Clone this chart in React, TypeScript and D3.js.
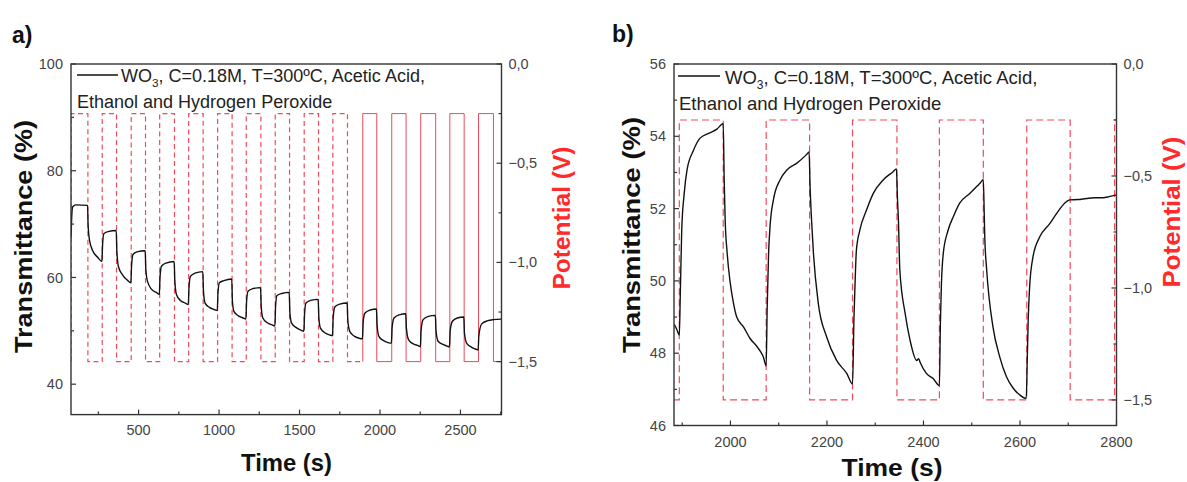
import React from "react";
import * as d3 from "d3";

// ---------- Panel a data ----------
const timeTicksA = [500, 1000, 1500, 2000, 2500];
const timeMinorA = [250, 750, 1250, 1750, 2250, 2750];
const transTicksA = [40, 60, 80, 100];
const transMinorA = [50, 70, 90];
const potTicks = [0, -0.5, -1.0, -1.5];
const potMinor = [-0.25, -0.75, -1.25];

// Transmittance (%) vs time (s), panel a
const transmittanceA: [number, number][] = [
  [80, 67.5], [84, 71], [90, 73.2], [110, 73.6], [183, 73.5],
  [186, 70], [195, 67], [215, 65], [245, 63.8], [272, 63.0],
  [276, 66], [284, 68.2], [310, 68.6], [361, 68.8],
  [365, 65], [375, 62], [400, 60.5], [430, 59.5], [452, 59.0],
  [456, 62], [465, 64.3], [490, 64.8], [541, 65.0],
  [545, 61.5], [555, 59.3], [580, 57.8], [610, 57.2], [629, 56.8],
  [633, 60], [642, 62.1], [670, 62.7], [721, 63.0],
  [725, 59.5], [735, 56.8], [760, 55.7], [790, 55.2], [809, 54.9],
  [813, 58], [822, 60.2], [850, 60.8], [899, 61.1],
  [903, 57.5], [913, 55.2], [940, 54.4], [970, 54.0], [989, 53.8],
  [993, 57], [1002, 59.0], [1030, 59.4], [1079, 59.7],
  [1083, 55.5], [1093, 53.6], [1120, 52.8], [1150, 52.4], [1167, 52.2],
  [1171, 55.5], [1180, 57.4], [1210, 57.9], [1258, 58.1],
  [1262, 54.5], [1272, 52.4], [1300, 51.5], [1330, 51.1], [1347, 50.9],
  [1351, 54.5], [1360, 56.6], [1390, 57.0], [1436, 57.2],
  [1440, 53.5], [1450, 51.5], [1480, 50.6], [1510, 50.1], [1527, 49.9],
  [1531, 53], [1540, 55.2], [1570, 55.7], [1616, 55.9],
  [1620, 52.5], [1630, 50.5], [1660, 49.6], [1690, 49.2], [1705, 49.1],
  [1709, 52.5], [1720, 54.5], [1750, 55.0], [1796, 55.2],
  [1800, 52], [1812, 49.9], [1840, 49.0], [1870, 48.6], [1891, 48.5],
  [1895, 51.5], [1906, 53.3], [1940, 53.9], [1978, 54.1],
  [1982, 51], [1994, 48.9], [2020, 48.2], [2050, 47.8], [2071, 47.7],
  [2075, 50.5], [2087, 52.4], [2120, 53.0], [2160, 53.2],
  [2164, 50.5], [2178, 48.3], [2210, 47.5], [2240, 47.2], [2251, 47.0],
  [2255, 50], [2268, 52.1], [2300, 52.7], [2344, 52.9],
  [2348, 50], [2362, 48.0], [2395, 47.4], [2420, 47.1], [2432, 47.0],
  [2436, 50], [2450, 51.8], [2480, 52.4], [2521, 52.6],
  [2525, 49.5], [2540, 47.6], [2570, 46.9], [2600, 46.5], [2610, 46.4],
  [2614, 49], [2632, 51.3], [2670, 51.9], [2705, 52.1], [2755, 52.2],
];

// Potential (V) switching points, panel a (step after)
const potentialA_dashed: [number, number][] = [
  [80, -1.5], [80, -0.25], [185, -1.5], [274, -0.25], [363, -1.5], [454, -0.25],
  [543, -1.5], [631, -0.25], [723, -1.5], [811, -0.25], [901, -1.5], [991, -0.25],
  [1081, -1.5], [1169, -0.25], [1260, -1.5], [1349, -0.25], [1438, -1.5],
  [1529, -0.25], [1618, -1.5], [1707, -0.25], [1798, -1.5], [1893, -1.5],
];
const potentialA_solid: [number, number][] = [
  [1893, -1.5], [1893, -0.25], [1980, -1.5], [2073, -0.25], [2162, -1.5],
  [2253, -0.25], [2346, -1.5], [2434, -0.25], [2523, -1.5], [2612, -0.25],
  [2705, -1.5], [2755, -1.5],
];

// ---------- Panel b data ----------
const timeTicksB = [2000, 2200, 2400, 2600, 2800];
const timeMinorB = [1900, 2100, 2300, 2500, 2700];
const transTicksB = [46, 48, 50, 52, 54, 56];
const transMinorB = [47, 49, 51, 53, 55];

const transmittanceB: [number, number][] = [
  [1883.5, 48.8], [1889, 48.65], [1894, 48.5], [1896, 49.6], [1899, 51.4], [1904, 52.4],
  [1910, 53.07], [1923, 53.6], [1937, 53.95], [1958, 54.1], [1972, 54.2], [1985, 54.35],
  [1987, 52.8], [1989, 51.7], [1993, 50.8], [1999, 50.0], [2006, 49.4], [2013, 49.0],
  [2027, 48.73], [2041, 48.4], [2054, 48.2], [2062, 48.05], [2068, 47.9], [2074, 47.65],
  [2076, 49.2], [2079, 50.76], [2082, 51.5], [2089, 52.24], [2103, 52.8], [2117, 53.07],
  [2137, 53.25], [2158, 53.5], [2163, 53.57],
  [2165, 52.6], [2168, 51.7], [2172, 50.76], [2182, 49.38], [2199, 48.46], [2220, 47.8],
  [2241, 47.44], [2253, 47.15],
  [2256, 49.0], [2258, 49.84], [2261, 50.85], [2268, 51.4], [2282, 51.96], [2296, 52.42],
  [2317, 52.8], [2337, 53.02], [2344, 53.1],
  [2346, 52.3], [2348, 51.7], [2351, 50.3], [2362, 49.1], [2372, 48.37], [2386, 47.8],
  [2390, 47.85], [2393, 47.75], [2406, 47.44], [2420, 47.3], [2433, 47.1],
  [2435, 48.8], [2437, 49.84], [2441, 50.76], [2451, 51.4], [2462, 51.78], [2475, 52.15],
  [2496, 52.42], [2517, 52.7], [2524, 52.8],
  [2526, 51.8], [2527, 51.22], [2531, 50.3], [2544, 48.73], [2558, 47.9], [2572, 47.35],
  [2586, 47.03], [2600, 46.84], [2613, 46.75],
  [2615, 47.8], [2617, 48.92], [2620, 49.84], [2627, 50.67], [2641, 51.22], [2662, 51.59],
  [2676, 51.87], [2696, 52.19], [2703, 52.24], [2720, 52.25], [2738, 52.28], [2755, 52.3],
  [2772, 52.3], [2785, 52.33], [2800, 52.38],
];

const potentialB: [number, number][] = [
  [1883, -1.5], [1894, -0.25], [1985, -1.5], [2074, -0.25], [2164, -1.5], [2253, -0.25],
  [2345, -1.5], [2433, -0.25], [2524, -1.5], [2614, -0.25], [2704, -1.5], [2796, -0.25],
  [2800, -0.25],
];

const legendLine1 = ["WO", "3", ", C=0.18M, T=300ºC, Acetic Acid,"];
const legendLine2 = "Ethanol and Hydrogen Peroxide";

const FONT = "'Liberation Sans', Arial, sans-serif";
const RED = "#ee4a5c";
const TITLE_RED = "#ff2a2a";
const AXIS = "#333";
const TICKTXT = "#444";

const fmtV = (v: number) =>
  d3.format(".1f")(Math.abs(v) < 1e-9 ? 0 : v).replace(".", ",").replace("-", "\u2212");

type Cfg = {
  id: string;
  left: number; right: number; top: number; bottom: number;
  xDomain: [number, number]; yDomain: [number, number]; vDomain: [number, number];
  xTicks: number[]; xMinor: number[]; yTicks: number[]; yMinor: number[];
  trans: [number, number][];
  potDashed: [number, number][];
  potSolid?: [number, number][];
  dash: string;
  panelLabel: string; panelX: number; panelY: number;
  xLabelBase: number;
  timeTitle: { x: number; y: number; len: number };
  transTitle: { x: number; y: number; len: number };
  potTitle: { x: number; y: number; len: number };
  legend: { lineX0: number; lineX1: number; lineY: number; textX: number; base1: number; x2: number; base2: number; size: number };
};

function Panel({ c }: { c: Cfg }) {
  const x = d3.scaleLinear().domain(c.xDomain).range([c.left, c.right]);
  const y = d3.scaleLinear().domain(c.yDomain).range([c.bottom, c.top]);
  const v = d3.scaleLinear().domain(c.vDomain).range([c.bottom, c.top]);
  const lineT = d3.line<[number, number]>().x(d => x(d[0])).y(d => y(d[1])).curve(d3.curveMonotoneX);
  const lineV = d3.line<[number, number]>().x(d => x(d[0])).y(d => v(d[1])).curve(d3.curveStepAfter);
  const maj = 5, mnr = 3;
  const clipId = "clip-" + c.id;
  return (
    <g>
      <defs>
        <clipPath id={clipId}>
          <rect x={c.left} y={c.top} width={c.right - c.left} height={c.bottom - c.top} />
        </clipPath>
      </defs>
      <text x={c.panelX} y={c.panelY} fontFamily={FONT} fontWeight="bold" fontSize={23} fill="#111">{c.panelLabel}</text>
      <g clipPath={`url(#${clipId})`}>
        <path d={lineV(c.potDashed) || ""} fill="none" stroke={RED} strokeWidth={1.2} strokeDasharray={c.dash} />
        {c.potSolid && <path d={lineV(c.potSolid) || ""} fill="none" stroke={RED} strokeWidth={1.0} />}
        <path d={lineT(c.trans) || ""} fill="none" stroke="#111" strokeWidth={1.4} />
      </g>
      <rect x={c.left} y={c.top} width={c.right - c.left} height={c.bottom - c.top} fill="none" stroke={AXIS} strokeWidth={1.4} />
      {c.xTicks.map(t => (
        <g key={"xt" + t}>
          <line x1={x(t)} x2={x(t)} y1={c.bottom} y2={c.bottom - maj} stroke={AXIS} strokeWidth={1.2} />
          <text x={x(t)} y={c.xLabelBase} textAnchor="middle" fontFamily={FONT} fontSize={14.5} fill={TICKTXT}>{t}</text>
        </g>
      ))}
      {c.xMinor.filter(t => t > c.xDomain[0] && t < c.xDomain[1]).map(t => (
        <line key={"xm" + t} x1={x(t)} x2={x(t)} y1={c.bottom} y2={c.bottom - mnr} stroke={AXIS} strokeWidth={1.2} />
      ))}
      {c.yTicks.map(t => (
        <g key={"yt" + t}>
          <line x1={c.left} x2={c.left + maj} y1={y(t)} y2={y(t)} stroke={AXIS} strokeWidth={1.2} />
          <text x={c.left - 8} y={y(t)} dy="0.35em" textAnchor="end" fontFamily={FONT} fontSize={14.5} fill={TICKTXT}>{t}</text>
        </g>
      ))}
      {c.yMinor.map(t => (
        <line key={"ym" + t} x1={c.left} x2={c.left + mnr} y1={y(t)} y2={y(t)} stroke={AXIS} strokeWidth={1.2} />
      ))}
      {potTicks.map(t => (
        <g key={"vt" + t}>
          <line x1={c.right} x2={c.right - maj} y1={v(t)} y2={v(t)} stroke={AXIS} strokeWidth={1.2} />
          <text x={c.right + 7} y={v(t)} dy="0.35em" textAnchor="start" fontFamily={FONT} fontSize={14.5} fill={TICKTXT}>{fmtV(t)}</text>
        </g>
      ))}
      {potMinor.map(t => (
        <line key={"vm" + t} x1={c.right} x2={c.right - mnr} y1={v(t)} y2={v(t)} stroke={AXIS} strokeWidth={1.2} />
      ))}
      <text x={c.timeTitle.x} y={c.timeTitle.y} textAnchor="middle" fontFamily={FONT} fontWeight="bold" fontSize={24}
        fill="#111" textLength={c.timeTitle.len} lengthAdjust="spacingAndGlyphs">Time (s)</text>
      <text transform={`translate(${c.transTitle.x},${c.transTitle.y}) rotate(-90)`} textAnchor="middle" fontFamily={FONT}
        fontWeight="bold" fontSize={24} fill="#111" textLength={c.transTitle.len} lengthAdjust="spacingAndGlyphs">Transmittance (%)</text>
      <text transform={`translate(${c.potTitle.x},${c.potTitle.y}) rotate(-90)`} textAnchor="middle" fontFamily={FONT}
        fontWeight="bold" fontSize={24} fill={TITLE_RED} textLength={c.potTitle.len} lengthAdjust="spacingAndGlyphs">Potential (V)</text>
      <line x1={c.legend.lineX0} x2={c.legend.lineX1} y1={c.legend.lineY} y2={c.legend.lineY} stroke="#111" strokeWidth={1.4} />
      <text x={c.legend.textX} y={c.legend.base1} fontFamily={FONT} fontSize={c.legend.size} fill="#222">
        <tspan>{legendLine1[0]}</tspan>
        <tspan dy={5} fontSize={c.legend.size * 0.65}>{legendLine1[1]}</tspan>
        <tspan dy={-5}>{legendLine1[2]}</tspan>
      </text>
      <text x={c.legend.x2} y={c.legend.base2} fontFamily={FONT} fontSize={c.legend.size} fill="#222">{legendLine2}</text>
    </g>
  );
}

const cfgA: Cfg = {
  id: "a",
  left: 71, right: 501.5, top: 64, bottom: 414.6,
  xDomain: [80, 2755], yDomain: [34.3, 100], vDomain: [-1.767, 0],
  xTicks: timeTicksA, xMinor: timeMinorA, yTicks: transTicksA, yMinor: transMinorA,
  trans: transmittanceA, potDashed: potentialA_dashed, potSolid: potentialA_solid,
  dash: "5,3.5",
  panelLabel: "a)", panelX: 12, panelY: 43,
  xLabelBase: 435,
  timeTitle: { x: 286.5, y: 471, len: 91 },
  transTitle: { x: 32, y: 236.5, len: 233 },
  potTitle: { x: 570, y: 218, len: 143 },
  legend: { lineX0: 77, lineX1: 118, lineY: 75, textX: 121, base1: 82, x2: 77, base2: 108, size: 18 },
};

const cfgB: Cfg = {
  id: "b",
  left: 674, right: 1116.5, top: 64, bottom: 425.5,
  xDomain: [1883, 2800], yDomain: [46, 56], vDomain: [-1.614, 0],
  xTicks: timeTicksB, xMinor: timeMinorB, yTicks: transTicksB, yMinor: transMinorB,
  trans: transmittanceB, potDashed: potentialB,
  dash: "7,4",
  panelLabel: "b)", panelX: 612, panelY: 42,
  xLabelBase: 447,
  timeTitle: { x: 892, y: 476, len: 101 },
  transTitle: { x: 640, y: 235, len: 236 },
  potTitle: { x: 1180, y: 212, len: 151 },
  legend: { lineX0: 678, lineX1: 720, lineY: 76, textX: 725, base1: 84, x2: 679, base2: 110, size: 18.5 },
};

export default function App() {
  return (
    <svg width={1187} height={482} style={{ position: "absolute", left: 0, top: 0, background: "#fff" }}>
      <rect x={0} y={0} width={1187} height={482} fill="#fff" />
      <Panel c={cfgA} />
      <Panel c={cfgB} />
    </svg>
  );
}
